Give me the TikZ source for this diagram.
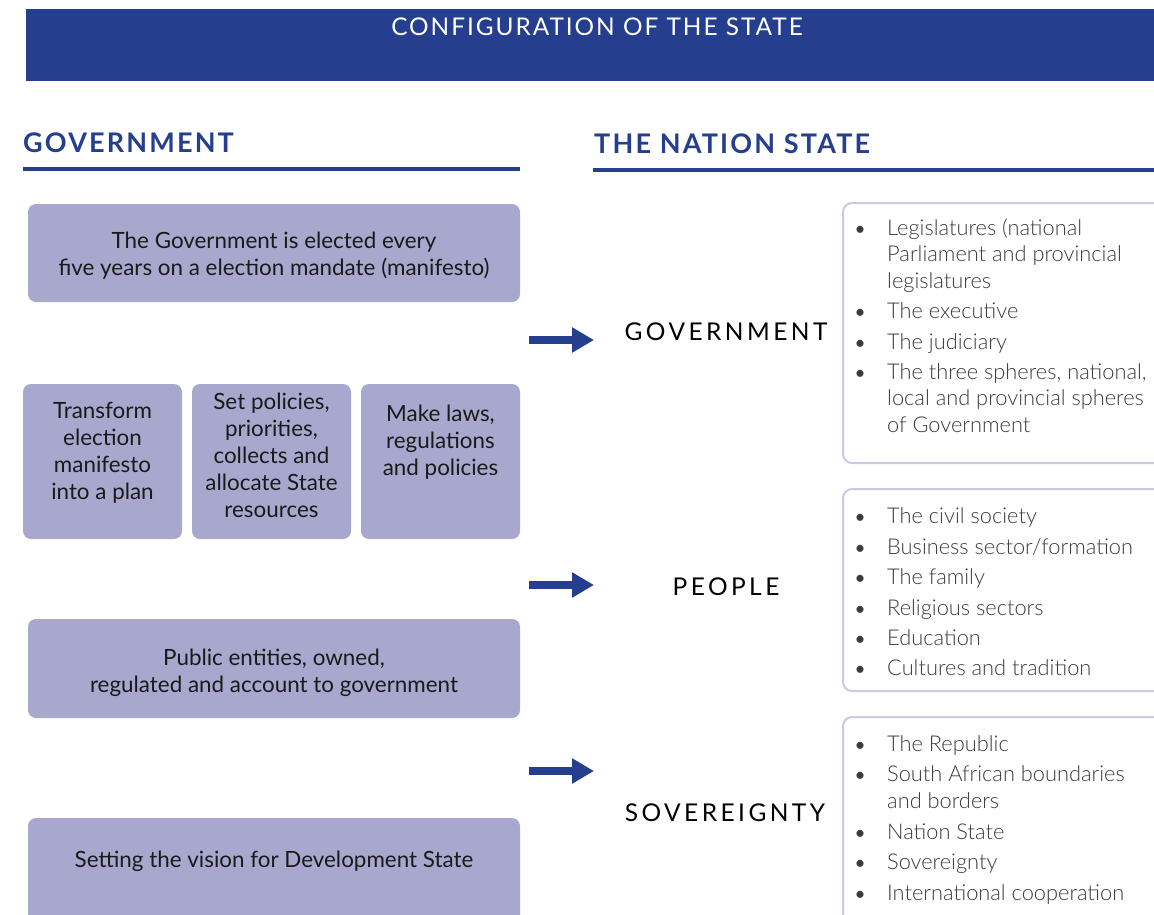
\documentclass[tikz,border=0pt]{standalone}
\usepackage{fontspec}
\setmainfont{Lato}
\newfontfamily\latolight{Lato Light}
\usetikzlibrary{arrows.meta}
\definecolor{hblue}{HTML}{253F8E}
\definecolor{boxfill}{HTML}{A8A7CE}
\definecolor{boxline}{HTML}{CBC9E3}
\definecolor{listgray}{HTML}{3C3C3C}
\definecolor{bodyblack}{HTML}{1A1A1A}
\tikzset{
  gbox/.style={fill=boxfill, rounded corners=8pt, draw=none},
  gtext/.style={font=\fontsize{22.4}{27}\selectfont, text=bodyblack, align=center, inner sep=0pt, anchor=base},
  rbox/.style={fill=white, draw=boxline, line width=2pt, rounded corners=9pt},
  ltext/.style={font=\latolight\fontsize{21.8}{26.5}\selectfont, text=listgray, inner sep=0pt, anchor=base west},
  bul/.style={font=\fontsize{19}{26.5}\selectfont, text=listgray, inner sep=0pt, anchor=base},
  lab/.style={font=\fontsize{24.5}{28}\selectfont\addfontfeatures{LetterSpace=14}, text=black, inner sep=0pt, anchor=base},
  head/.style={font=\bfseries\fontsize{27}{30}\selectfont\addfontfeatures{LetterSpace=8}, text=hblue, inner sep=0pt, anchor=base west},
  bigarrow/.style={draw=hblue, line width=8pt, -{Triangle[length=22pt,width=24pt]}},
  rule/.style={draw=hblue, line width=4pt}
}
\begin{document}
\begin{tikzpicture}[x=1pt,y=-1pt]
\useasboundingbox (0,0) rectangle (1154,914);
\clip (0,0) rectangle (1154,914);
% header
\fill[hblue] (26,9) rectangle (1160,81);
\node[font=\fontsize{24.4}{28}\selectfont\addfontfeatures{LetterSpace=8}, text=white, inner sep=0pt, anchor=base] (title) at (597,35) {CONFIGURATION OF THE STATE};
% headings
\node[head] (hgov) at (23,152) {GOVERNMENT};
\draw[rule] (23,169) -- (520,169);
\node[head] (hns) at (594,153) {THE NATION STATE};
\draw[rule] (593,170) -- (1160,170);
% left boxes
\fill[gbox] (28,204) rectangle (520,302);
\node[gtext] (t1) at (274,275) {The Government is elected every\\five years on a election mandate (manifesto)};
\fill[gbox] (23,384) rectangle (182,539);
\node[gtext] (t2) at (102.5,499) {Transform\\election\\manifesto\\into a plan};
\fill[gbox] (192,384) rectangle (351,539);
\node[gtext] (t3) at (271.5,517) {Set policies,\\priorities,\\collects and\\allocate State\\resources};
\fill[gbox] (361,384) rectangle (520,539);
\node[gtext] (t4) at (440.5,475) {Make laws,\\regulations\\and policies};
\fill[gbox] (28,619) rectangle (520,718);
\node[gtext] (t5) at (274,692) {Public entities, owned,\\regulated and account to government};
\fill[gbox] (28,818) rectangle (520,940);
\node[gtext] (t6) at (274,867) {Setting the vision for Development State};
% arrows
\coordinate (a1s) at (529,340); \coordinate (a1e) at (594,340);
\coordinate (a2s) at (529,585); \coordinate (a2e) at (594,585);
\coordinate (a3s) at (529,771); \coordinate (a3e) at (594,771);
\draw[bigarrow] (a1s) -- (a1e);
\draw[bigarrow] (a2s) -- (a2e);
\draw[bigarrow] (a3s) -- (a3e);
% labels
\node[lab] (lgov) at (726,340) {GOVERNMENT};
\node[lab] (lpeo) at (726,595) {PEOPLE};
\node[lab] (lsov) at (725,821) {SOVEREIGNTY};
% right boxes
\draw[rbox] (843,203) rectangle (1175,463);
\draw[rbox] (843,489) rectangle (1175,691);
\draw[rbox] (843,717) rectangle (1175,940);
% lists
\foreach \y/\b/\t [count=\i] in {
  235/1/Legislatures (national,
  261/0/Parliament and provincial,
  288/0/legislatures,
  318/1/The executive,
  349/1/The judiciary,
  379/1/{The three spheres, national,},
  405/0/local and provincial spheres,
  432/0/of Government,
  523/1/The civil society,
  554/1/{Business sector/formation},
  584/1/The family,
  615/1/Religious sectors,
  645/1/Education,
  675/1/Cultures and tradition,
  751/1/The Republic,
  781/1/South African boundaries,
  808/0/and borders,
  839/1/Nation State,
  869/1/Sovereignty,
  900/1/International cooperation}{
  \node[ltext] (li\i) at (887,\y) {\t};
  \ifnum\b=1 \node[bul] (bu\i) at (860,\y) {\textbullet}; \fi
}
\end{tikzpicture}
\end{document}
